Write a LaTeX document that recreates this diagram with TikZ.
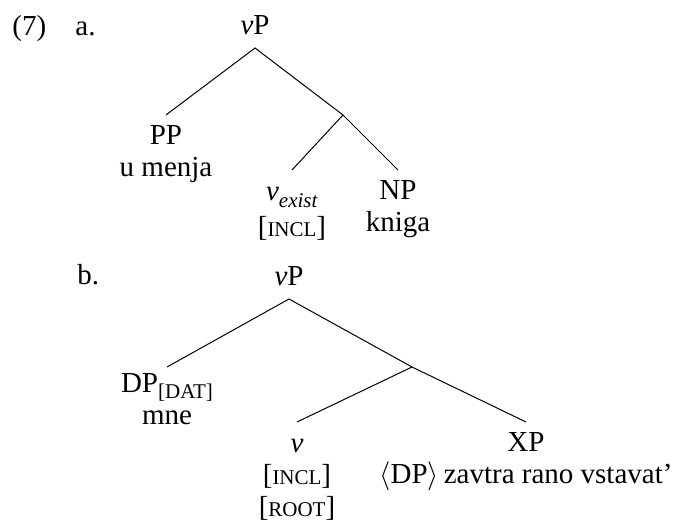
\documentclass[tikz,border=0pt]{standalone}
\usepackage{fontspec}
\setmainfont{Liberation Serif}
\usepackage{tikz}
\usetikzlibrary{positioning}
% fake small caps (Liberation Serif has none)
\newcommand{\fsc}[1]{{\fontsize{10.5}{11}\selectfont #1}}
\newcommand{\lsub}[1]{\raisebox{-3.2pt}{\fontsize{10.5}{11}\selectfont #1}}

\begin{document}
\begin{tikzpicture}[x=0.5pt,y=-0.5pt,font=\fontsize{14.5}{16}\selectfont,
  lab/.style={anchor=base west,inner sep=0pt},
  root/.style={anchor=south,inner xsep=0pt,inner ysep=6.5pt},
  tnode/.style={anchor=north,align=center,inner xsep=0pt,inner ysep=5pt},
  vnode/.style={tnode,inner ysep=8.5pt},
  edge/.style={line width=0.5pt}]
\useasboundingbox (0,0) rectangle (676,524);
\node[lab] (exnum) at (12,36) {(7)};
\node[lab] (laba) at (75,36) {a.};
\node[lab] (labb) at (77,285) {b.};
% tree a
\node[root] (vPa) at (255,48) {\textit{v}P};
\coordinate (brA) at (343,115);
\node[tnode] (PPa) at (166,115) {PP\\u menja};
\node[vnode] (vexist) at (292,170) {\textit{v}\lsub{\textit{exist}}\\[2pt]{[}\fsc{INCL}{]}};
\node[tnode] (NPa) at (398,170) {NP\\kniga};
\draw[edge] (PPa.north) -- (vPa.south) -- (brA) -- (NPa.north);
\draw[edge] (brA) -- (vexist.north);
% tree b
\node[root] (vPb) at (289,299) {\textit{v}P};
\coordinate (brB) at (412,367);
\node[tnode,inner ysep=3pt] (DPb) at (167,367) {DP\lsub{[DAT]}\\mne};
\node[vnode] (vb) at (297,422) {\textit{v}\\{[}\fsc{INCL}{]}\\{[}\fsc{ROOT}{]}};
\node[tnode] (XPb) at (526,422) {XP\\$\langle$DP$\rangle$\,zavtra rano vstavat’};
\draw[edge] (DPb.north) -- (vPb.south) -- (brB) -- (XPb.north);
\draw[edge] (brB) -- (vb.north);
\end{tikzpicture}
\end{document}
